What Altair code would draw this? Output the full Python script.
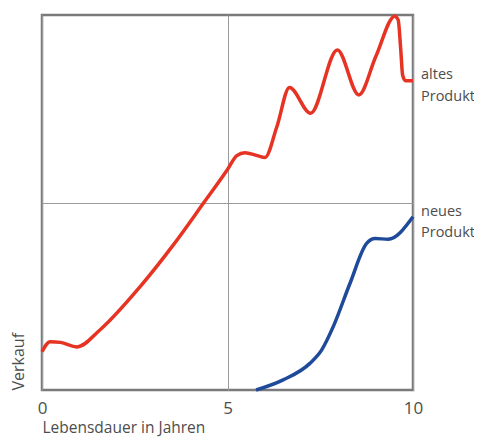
import altair as alt
import pandas as pd

# Data (x: Jahre, y: Verkauf 0..10)
alt_x = [0, 0.22, 0.5, 0.95, 1.56, 2.64, 3.54, 4.35, 5.0, 5.25, 5.47, 5.8, 6.01, 6.33, 6.67, 7.24, 7.96, 8.54, 9.0, 9.51, 9.6, 9.67, 9.72, 9.8, 10]
alt_y = [1.02, 1.29, 1.27, 1.15, 1.6, 2.75, 3.87, 4.98, 5.88, 6.25, 6.33, 6.25, 6.2, 7.02, 8.07, 7.38, 9.07, 7.87, 8.9, 9.97, 9.87, 9.07, 8.4, 8.25, 8.25]

neu_x = [5.77, 6.5, 7.22, 7.54, 7.85, 8.3, 8.75, 8.98, 9.33, 10]
neu_y = [0, 0.27, 0.71, 1.07, 1.69, 2.84, 3.91, 4.04, 4.02, 4.62]

label_text = ["altes", "Produkt", "neues", "Produkt"]
label_y = [8.4, 7.82, 4.75, 4.2]
label_x = [10, 10, 10, 10]

x_ticks = [0, 5, 10]

df_alt = pd.DataFrame({"x": alt_x, "y": alt_y})
df_neu = pd.DataFrame({"x": neu_x, "y": neu_y})
df_lab = pd.DataFrame({"x": label_x, "y": label_y, "t": label_text})

FONT = "Open Sans"
TXT = "#4d4d4d"

xs = alt.Scale(domain=[0, 10], nice=False)
ys = alt.Scale(domain=[0, 10], nice=False)

x_axis = alt.Axis(values=x_ticks, grid=True, gridColor="#9a9a9a", gridWidth=1,
                  ticks=False, domain=False, labelFontSize=17, labelColor=TXT,
                  labelFont=FONT, labelPadding=10, labelFlush=False,
                  title="Lebensdauer in Jahren", titleFont=FONT, titleFontSize=15.5,
                  titleFontWeight="normal", titleColor=TXT, titleAnchor="start",
                  titleAlign="left", titleX=0, titleY=42, titleBaseline="alphabetic")
y_axis = alt.Axis(values=[5], grid=True, gridColor="#9a9a9a", gridWidth=1,
                  ticks=False, domain=False, labels=False,
                  title="Verkauf", titleFont=FONT, titleFontSize=16,
                  titleFontWeight="normal", titleColor=TXT, titleAngle=270,
                  titleAlign="left", titleX=-24, titleY=375, titleBaseline="middle")

red = alt.Chart(df_alt).mark_line(color="#e63323", strokeWidth=3.5, interpolate="monotone").encode(
    x=alt.X("x:Q", scale=xs, axis=x_axis),
    y=alt.Y("y:Q", scale=ys, axis=y_axis),
)
blue = alt.Chart(df_neu).mark_line(color="#1f4a9a", strokeWidth=3.5, interpolate="monotone").encode(
    x=alt.X("x:Q", scale=xs),
    y=alt.Y("y:Q", scale=ys),
)
labels = alt.Chart(df_lab).mark_text(align="left", baseline="middle", dx=8,
                                     font=FONT, fontSize=14.5, color=TXT).encode(
    x=alt.X("x:Q", scale=xs),
    y=alt.Y("y:Q", scale=ys),
    text="t:N",
)

chart = alt.layer(red, blue, labels).properties(
    width=371, height=375,
    background="white",
    autosize=alt.AutoSizeParams(type="none"),
    padding={"left": 34, "top": 7, "right": 61, "bottom": 48},
).configure_view(stroke="#7a7a7a", strokeWidth=2.5)

chart.save("out.html", embed_options={"renderer": "svg", "actions": False})
